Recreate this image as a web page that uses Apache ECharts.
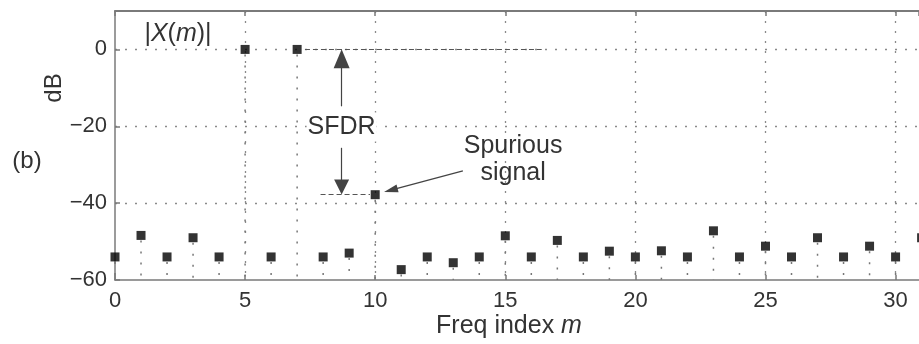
<!DOCTYPE html>
<html>
<head>
<meta charset="utf-8">
<script src="https://cdn.jsdelivr.net/npm/echarts@6/dist/echarts.min.js"></script>
<style>
  html, body { margin: 0; padding: 0; background: #fff; }
  #container { width: 919px; height: 344px; }
</style>
</head>
<body>
<div id="container"></div>
<script>
// spectrum |X(m)| in dB
var freqIndex = [0, 1, 2, 3, 4, 5, 6, 7, 8, 9, 10, 11, 12, 13, 14, 15,
                 16, 17, 18, 19, 20, 21, 22, 23, 24, 25, 26, 27, 28, 29, 30, 31];
var magnitudeDb = [-54, -48.4, -54, -49, -54, 0, -54, 0, -54, -53, -37.8, -57.3, -54, -55.5, -54, -48.5,
                   -54, -49.7, -54, -52.5, -54, -52.4, -54, -47.2, -54, -51.2, -54, -49, -54, -51.2, -54, -49];
var xTicks = [0, 5, 10, 15, 20, 25, 30];
var yTicks = [-60, -40, -20, 0];

var FONT = '"Liberation Sans", Arial, sans-serif';
var TEXT = '#333';
var AXIS = '#7a7a7a';

var points = freqIndex.map(function (m, i) {
    return [m, magnitudeDb[i]];
});

var dom = document.getElementById("container");
var myChart = echarts.init(dom);

function minusSign(v) {
    return String(v).replace('-', '\u2212');
}

var option = {
    animation: false,
    backgroundColor: '#fff',
    textStyle: { fontFamily: FONT },
    // the original figure is cut off at the right, around m = 30.9
    grid: { left: 115, top: 11, right: 0, bottom: 64 },
    xAxis: [
        {
            type: 'value', min: 0, max: 30.9, interval: 5, position: 'bottom',
            axisLine: { show: true, onZero: false, lineStyle: { color: AXIS, width: 1.5 } },
            axisTick: { show: true, inside: true, length: 5, lineStyle: { color: AXIS, width: 1.5 } },
            axisLabel: {
                fontSize: 22, color: TEXT, fontFamily: FONT, margin: 10,
                showMaxLabel: false,
                formatter: function (v) { return xTicks.indexOf(v) >= 0 ? String(v) : ''; }
            },
            splitLine: {
                show: true, showMinLine: false, showMaxLine: false,
                lineStyle: { color: '#8a8a8a', width: 1.3, type: [2, 8] }
            }
        },
        {
            type: 'value', min: 0, max: 30.9, interval: 5, position: 'top',
            axisLine: { show: true, onZero: false, lineStyle: { color: AXIS, width: 2 } },
            axisTick: { show: true, inside: true, length: 5, lineStyle: { color: AXIS, width: 1.5 } },
            axisLabel: { show: false },
            splitLine: { show: false }
        }
    ],
    yAxis: {
        type: 'value', min: -60, max: 10, interval: 20,
        axisLine: { show: true, onZero: false, lineStyle: { color: AXIS, width: 1.5 } },
        axisTick: { show: true, inside: true, length: 5, lineStyle: { color: AXIS, width: 1.5 } },
        axisLabel: {
            fontSize: 22, color: TEXT, fontFamily: FONT, margin: 8,
            showMaxLabel: false,
            formatter: function (v) { return yTicks.indexOf(v) >= 0 ? minusSign(v) : ''; }
        },
        splitLine: {
            show: true, showMinLine: false, showMaxLine: false,
            lineStyle: { color: '#8a8a8a', width: 1.3, type: [2, 8] }
        }
    },
    graphic: [
        {
            type: 'text', x: 27, y: 161,
            style: { text: '(b)', fontSize: 24, fontFamily: FONT, fill: TEXT, align: 'center', verticalAlign: 'middle' }
        },
        {
            type: 'text', x: 54, y: 88, rotation: Math.PI / 2,
            style: { text: 'dB', fontSize: 24, fontFamily: FONT, fill: TEXT, align: 'center', verticalAlign: 'middle' }
        },
        {
            type: 'text', x: 509, y: 326,
            style: {
                text: '{n|Freq index }{i|m}', align: 'center', verticalAlign: 'middle',
                rich: {
                    n: { fontSize: 25, fontFamily: FONT, fill: TEXT, color: TEXT },
                    i: { fontSize: 25, fontFamily: FONT, fontStyle: 'italic', fill: TEXT, color: TEXT }
                }
            }
        }
    ],
    series: [
        {
            // dotted stems down to the bottom of the plot
            name: 'stems',
            type: 'custom',
            data: points,
            silent: true,
            z: 2,
            renderItem: function (params, api) {
                var top = api.coord([api.value(0), api.value(1)]);
                var bottom = api.coord([api.value(0), -60]);
                return {
                    type: 'line',
                    shape: { x1: top[0], y1: top[1] + 5, x2: bottom[0], y2: bottom[1] },
                    style: { stroke: '#777', lineWidth: 1.5, lineDash: [2, 9] }
                };
            }
        },
        {
            name: '|X(m)|',
            type: 'scatter',
            data: points,
            clip: false,
            symbol: 'rect',
            symbolSize: 9,
            itemStyle: { color: '#000' },
            z: 5,
            markLine: {
                silent: true,
                animation: false,
                label: { show: false },
                lineStyle: { color: '#444', width: 1.2, type: 'solid' },
                data: [
                    [
                        { coord: [7.3, 0], symbol: 'none', lineStyle: { type: [5, 3], color: '#555' } },
                        { coord: [16.4, 0], symbol: 'none' }
                    ],
                    [
                        { coord: [7.9, -37.8], symbol: 'none', lineStyle: { type: [5, 3], color: '#555' } },
                        { coord: [9.8, -37.8], symbol: 'none' }
                    ],
                    [
                        { coord: [8.71, -14.8], symbol: 'none' },
                        { coord: [8.71, -2.4], symbol: 'triangle', symbolSize: [16, 19] }
                    ],
                    [
                        { coord: [8.71, -25.6], symbol: 'none' },
                        { coord: [8.71, -35.8], symbol: 'triangle', symbolSize: [15, 15] }
                    ],
                    [
                        { coord: [13.37, -31.6], symbol: 'none' },
                        { coord: [10.6, -36.6], symbol: 'triangle', symbolSize: [8, 14] }
                    ]
                ]
            },
            markPoint: {
                silent: true,
                animation: false,
                symbol: 'rect',
                symbolSize: 0,
                data: [
                    {
                        coord: [8.71, -20.2],
                        label: {
                            show: true, position: 'inside', formatter: 'SFDR',
                            fontSize: 25, fontFamily: FONT, color: TEXT,
                            backgroundColor: '#fff', padding: [2, 1]
                        }
                    },
                    {
                        coord: [15.3, -28.6],
                        label: {
                            show: true, position: 'inside', formatter: 'Spurious\nsignal',
                            fontSize: 25, fontFamily: FONT, color: TEXT, lineHeight: 27, align: 'center'
                        }
                    },
                    {
                        coord: [2.42, 4.1],
                        label: {
                            show: true, position: 'inside',
                            formatter: '{n||}{i|X}{n|(}{i|m}{n|)|}',
                            rich: {
                                n: { fontSize: 25, fontFamily: FONT, color: TEXT },
                                i: { fontSize: 25, fontFamily: FONT, fontStyle: 'italic', color: TEXT }
                            }
                        }
                    }
                ]
            }
        }
    ]
};

myChart.setOption(option, true);
</script>
</body>
</html>
